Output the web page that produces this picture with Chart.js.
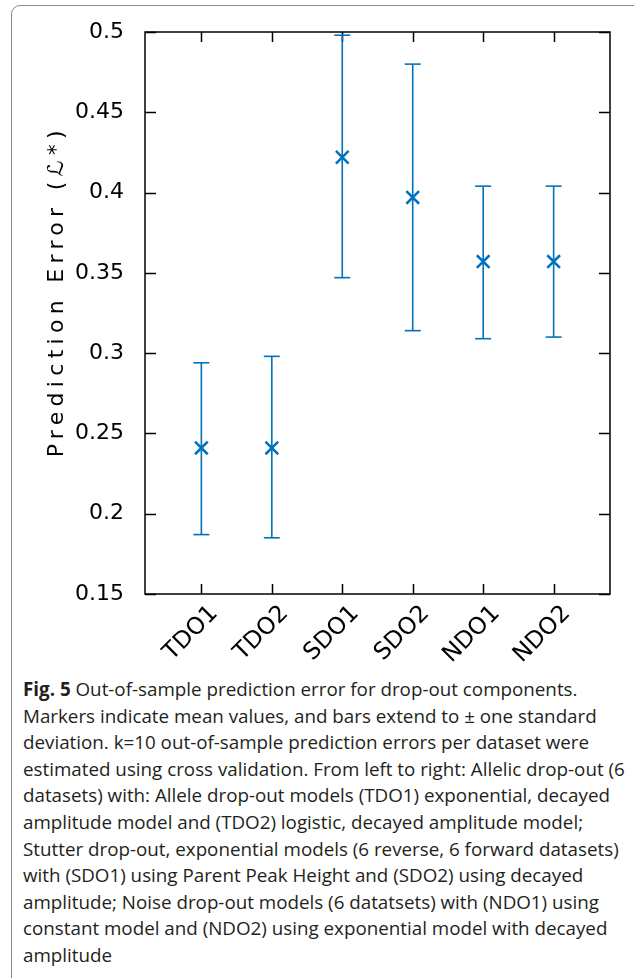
<!DOCTYPE html>
<html>
<head>
<meta charset="utf-8">
<title>Fig. 5 prediction error</title>
<script src="https://cdn.jsdelivr.net/npm/chart.js@4.4.0/dist/chart.umd.min.js"></script>
<style>
  html, body { margin: 0; padding: 0; background: #fff; }
  body { width: 634px; height: 978px; position: relative; overflow: hidden; }
  #frame { position: absolute; left: 11px; top: 5px; width: 640px; height: 1000px;
           border: 1px solid #8a8a8a; border-radius: 9px; }
  #chartBox { position: absolute; left: 0; top: 0; width: 634px; height: 670px; }
  #caption { position: absolute; left: 23px; top: 676px; font-family: "Open Sans", sans-serif;
             font-size: 18.8px; line-height: 26.6px; color: #231f20; white-space: nowrap; }
  #caption b { font-weight: 700; }
</style>
</head>
<body>
<div id="frame"></div>
<div id="chartBox"><canvas id="errChart"></canvas></div>
<div id="caption">
  <b>Fig. 5</b> Out-of-sample prediction error for drop-out components.<br>
  Markers indicate mean values, and bars extend to ± one standard<br>
  deviation. k=10 out-of-sample prediction errors per dataset were<br>
  estimated using cross validation. From left to right: Allelic drop-out (6<br>
  datasets) with: Allele drop-out models (TDO1) exponential, decayed<br>
  amplitude model and (TDO2) logistic, decayed amplitude model;<br>
  Stutter drop-out, exponential models (6 reverse, 6 forward datasets)<br>
  with (SDO1) using Parent Peak Height and (SDO2) using decayed<br>
  amplitude; Noise drop-out models (6 datatsets) with (NDO1) using<br>
  constant model and (NDO2) using exponential model with decayed<br>
  amplitude
</div>
<script>
// Drop-out component prediction error: mean and +/- one std dev
const models = ["TDO1", "TDO2", "SDO1", "SDO2", "NDO1", "NDO2"];
const means  = [0.241, 0.241, 0.422, 0.397, 0.357, 0.357];
const lowers = [0.187, 0.185, 0.347, 0.314, 0.309, 0.310];
const uppers = [0.294, 0.298, 0.498, 0.480, 0.404, 0.404];
const yTicks = [0.15, 0.2, 0.25, 0.3, 0.35, 0.4, 0.45, 0.5];

const blue = "#0072BD";

// error bars: one vertical segment per model, broken by a null point
const barPoints = [];
models.forEach((m, i) => {
  barPoints.push({ x: i + 1, y: lowers[i] });
  barPoints.push({ x: i + 1, y: uppers[i] });
  barPoints.push({ x: i + 1, y: null });
});
const meanPoints = models.map((m, i) => ({ x: i + 1, y: means[i] }));

// box frame with inward ticks on all four sides, plus letter spacing:
// the axis title is drawn before the datasets, tick labels after (ticks.z = 1)
const frameTicks = {
  id: "frameTicks",
  beforeDraw(chart) {
    chart.ctx.letterSpacing = "5.3px";
  },
  beforeDatasetsDraw(chart) {
    const { ctx, chartArea: a, scales: { x, y } } = chart;
    ctx.save();
    ctx.strokeStyle = "#000";
    ctx.lineWidth = 1.5;
    ctx.strokeRect(a.left, a.top, a.right - a.left, a.bottom - a.top);
    ctx.beginPath();
    y.ticks.forEach(t => {
      const py = Math.round(y.getPixelForValue(t.value)) + 0.5;
      ctx.moveTo(a.left, py); ctx.lineTo(a.left + 11, py);
      ctx.moveTo(a.right, py); ctx.lineTo(a.right - 11, py);
    });
    x.ticks.forEach(t => {
      const px = Math.round(x.getPixelForValue(t.value)) + 0.5;
      ctx.moveTo(px, a.bottom); ctx.lineTo(px, a.bottom - 10);
      ctx.moveTo(px, a.top); ctx.lineTo(px, a.top + 10);
    });
    ctx.stroke();
    ctx.restore();
  },
  afterDatasetsDraw(chart) {
    chart.ctx.letterSpacing = "0px";
  }
};

new Chart(document.getElementById("errChart"), {
  type: "scatter",
  data: {
    datasets: [
      {
        data: barPoints,
        showLine: true,
        spanGaps: false,
        borderColor: blue,
        borderWidth: 1.6,
        pointStyle: "line",
        pointRadius: 8,
        pointBorderWidth: 1.6,
        pointBorderColor: blue,
        pointHoverRadius: 8
      },
      {
        data: meanPoints,
        showLine: false,
        pointStyle: "crossRot",
        pointRadius: 9,
        pointBorderWidth: 2.5,
        borderColor: blue,
        backgroundColor: blue,
        pointHoverRadius: 9
      }
    ]
  },
  options: {
    responsive: true,
    maintainAspectRatio: false,
    animation: false,
    layout: { padding: { top: 32, right: 24, bottom: 0, left: 0 } },
    plugins: { legend: { display: false }, tooltip: { enabled: false } },
    scales: {
      x: {
        type: "linear",
        min: 0.2,
        max: 6.8,
        afterBuildTicks: scale => { scale.ticks = models.map((m, i) => ({ value: i + 1 })); },
        afterFit: scale => { scale.height = 76; },
        grid: { display: false, tickLength: 0 },
        border: { display: false },
        ticks: {
          z: 1,
          callback: v => models[v - 1],
          minRotation: 45,
          maxRotation: 45,
          padding: 6,
          labelOffset: 13,
          color: "#000",
          font: { family: "DejaVu Sans", size: 23.5 }
        }
      },
      y: {
        min: 0.15,
        max: 0.5,
        afterBuildTicks: scale => { scale.ticks = yTicks.map(v => ({ value: v })); },
        afterFit: scale => { scale.width = 145; },
        grid: { display: false },
        border: { display: false },
        ticks: {
          z: 1,
          callback: v => String(+v.toFixed(2)),
          padding: 13,
          color: "#000",
          font: { family: "DejaVu Sans", size: 22 }
        },
        title: {
          display: true,
          // leading em/en spaces nudge the label upward, as in the original figure
          text: "\u2003\u2002Prediction Error (ℒ*)",
          color: "#000",
          padding: { top: 44, bottom: 0 },
          font: { family: "DejaVu Sans", size: 22 }
        }
      }
    }
  },
  plugins: [frameTicks]
});
</script>
</body>
</html>
